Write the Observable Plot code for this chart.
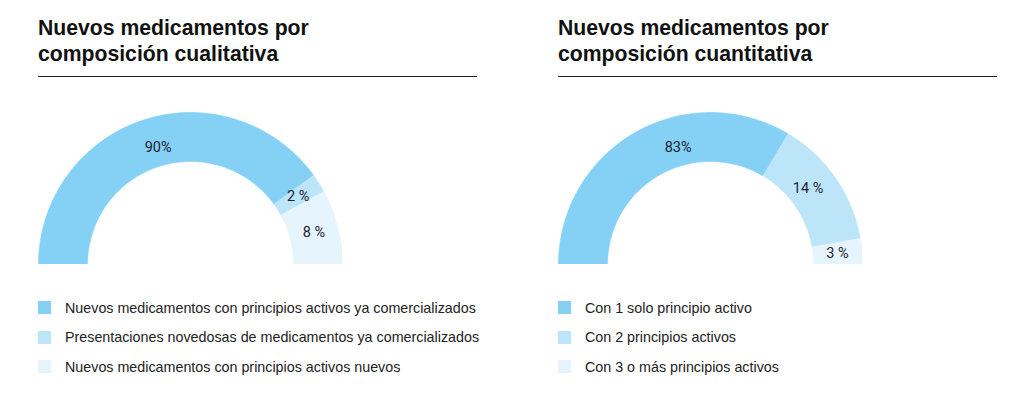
<!DOCTYPE html>
<html><head><meta charset="utf-8">
<script src="https://cdn.jsdelivr.net/npm/d3@7"></script>
<script src="https://cdn.jsdelivr.net/npm/@observablehq/plot@0.6"></script>
<style>
body{margin:0;background:#fff;font-family:"Liberation Sans",Arial,sans-serif;width:1024px;height:395px;position:relative;overflow:hidden}
.panel{position:absolute;top:0;width:439px;height:395px}
.title{position:absolute;left:0;top:15px;font-size:21.2px;font-weight:bold;line-height:26px;color:#111;white-space:nowrap}
.rule{position:absolute;left:0;top:76px;width:439px;height:0;border-top:1.5px solid #222}
.chart{position:absolute;left:0;top:112px}
.legend{position:absolute;left:0;top:293px;font-size:14.3px;color:#222;white-space:nowrap;width:480px}
.legend .row{height:29.5px;display:flex;align-items:center;position:relative}
.legend .sw{width:13px;height:13px;margin-right:14px;flex:none}
</style></head><body>
<div class="panel" id="p1" style="left:38px"></div>
<div class="panel" id="p2" style="left:558px"></div>
<script>
const colors = ["#85d0f5", "#bde5fa", "#e6f4fd"];

const titleA = ["Nuevos medicamentos por", "composición cualitativa"];
const categoriesA = ["Nuevos medicamentos con principios activos ya comercializados", "Presentaciones novedosas de medicamentos ya comercializados", "Nuevos medicamentos con principios activos nuevos"];
const labelsA = ["90%", "2 %", "8 %"];
const sharesA = [80, 4, 16]; // arc shares as drawn

const titleB = ["Nuevos medicamentos por", "composición cuantitativa"];
const categoriesB = ["Con 1 solo principio activo", "Con 2 principios activos", "Con 3 o más principios activos"];
const labelsB = ["83%", "14 %", "3 %"];
const sharesB = [67, 27.5, 5.5];

const R_OUT = 1, R_IN = 103/152;

function build(panelId, title, categories, labels, shares) {
  const panel = document.getElementById(panelId);
  const t = document.createElement("div");
  t.className = "title";
  t.innerHTML = title.join("<br>");
  panel.appendChild(t);
  const r = document.createElement("div");
  r.className = "rule";
  panel.appendChild(r);

  const total = d3.sum(shares);
  let acc = 0;
  const slices = shares.map((s, i) => {
    const a0 = Math.PI * (1 - acc / total);
    acc += s;
    const a1 = Math.PI * (1 - acc / total);
    return {i, a0, a1, label: labels[i], cat: categories[i]};
  });
  const pts = [];
  for (const s of slices) {
    const n = 80;
    for (let k = 0; k <= n; k++) {
      const a = s.a0 + (s.a1 - s.a0) * k / n;
      pts.push({cat: s.cat, x: R_OUT * Math.cos(a), y: R_OUT * Math.sin(a)});
    }
    for (let k = n; k >= 0; k--) {
      const a = s.a0 + (s.a1 - s.a0) * k / n;
      pts.push({cat: s.cat, x: R_IN * Math.cos(a), y: R_IN * Math.sin(a)});
    }
  }
  const labelPts = slices.map((s, i) => {
    let a = (s.a0 + s.a1) / 2, rr = (R_OUT + R_IN) / 2;
    if (i === 0) { a = 105.4 * Math.PI / 180; rr = 122/152; }
    else if (s.a0 - s.a1 > 0.6) { a = a + 0.06; rr = 124/152; }
    return {x: rr * Math.cos(a), y: rr * Math.sin(a), label: s.label};
  });

  const plot = Plot.plot({
    width: 304, height: 152, margin: 0,
    x: {domain: [-1, 1], axis: null},
    y: {domain: [0, 1], axis: null},
    color: {domain: categories, range: colors},
    marks: [
      ...slices.map(s => Plot.line(pts.filter(p => p.cat === s.cat), {x: "x", y: "y", fill: colors[s.i], stroke: colors[s.i], strokeWidth: 0.6})),
      Plot.text(labelPts, {x: "x", y: "y", text: "label", fontSize: 14.5, fill: "#1c2333", fontFamily: "Roboto, sans-serif"})
    ]
  });
  plot.classList.add("chart");
  panel.appendChild(plot);

  const leg = document.createElement("div");
  leg.className = "legend";
  categories.forEach((c, i) => {
    const row = document.createElement("div");
    row.className = "row";
    row.innerHTML = `<span class="sw" style="background:${colors[i]}"></span><span>${c}</span>`;
    leg.appendChild(row);
  });
  panel.appendChild(leg);
}
build("p1", titleA, categoriesA, labelsA, sharesA);
build("p2", titleB, categoriesB, labelsB, sharesB);
</script>
</body></html>
